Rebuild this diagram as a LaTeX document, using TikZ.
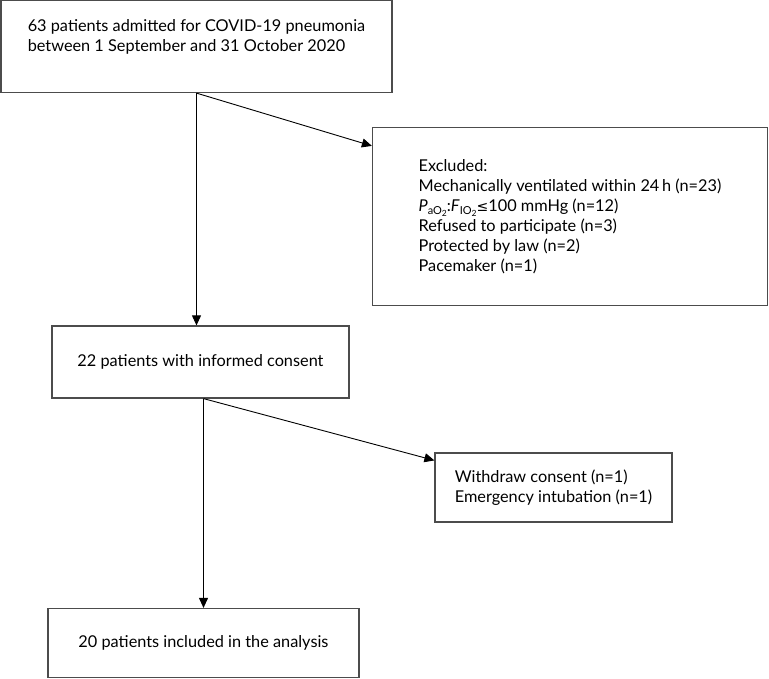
\documentclass[tikz,border=0pt]{standalone}
\usepackage{fontspec}
\setmainfont{Lato}
\newfontfamily\symfont{DejaVu Sans}
\usetikzlibrary{arrows.meta,calc}
\tikzset{
  box/.style={draw=black!70, line width=1.2pt, inner sep=0pt, align=left},
  txt/.style={inner sep=0pt, align=left, font=\fontsize{16.3}{20}\selectfont},
  arr/.style={draw=black, line width=0.9pt, -{Triangle[length=10pt,width=9pt]}}
}
\newcommand{\sbsc}[1]{\raisebox{-3pt}{\fontsize{11}{10}\selectfont #1}}
\newcommand{\ssbsc}[1]{\raisebox{-2pt}{\fontsize{8.5}{8}\selectfont #1}}
\begin{document}
\begin{tikzpicture}[x=1pt,y=1pt]
\useasboundingbox (0,0) rectangle (769,-678);
% boxes
\node[box, minimum width=391pt, minimum height=92pt] (b1) at (196.5,-46.5) {};
\node[txt, anchor=north] (b1t) at (196.5,-19.5) {63 patients admitted for COVID-19 pneumonia\\between 1 September and 31 October 2020};
\node[box, minimum width=395pt, minimum height=178pt] (ex) at (570,-216.5) {};
\node[txt] (ext) at (ex.center) {Excluded:\\Mechanically ventilated within 24\,h (n=23)\\\textit{P}\sbsc{aO\ssbsc{2}}:\textit{F}\sbsc{IO\ssbsc{2}}{\symfont\fontsize{14}{14}\selectfont ≤}100 mmHg (n=12)\\Refused to participate (n=3)\\Protected by law (n=2)\\Pacemaker (n=1)};
\node[box, minimum width=297pt, minimum height=72pt] (co) at (200.5,-362) {};
\node[txt] (cot) at (co.center) {22 patients with informed consent};
\node[box, minimum width=237pt, minimum height=69pt] (wd) at (553.5,-487.5) {};
\node[txt] (wdt) at (wd.center) {Withdraw consent (n=1)\\Emergency intubation (n=1)};
\node[box, minimum width=311pt, minimum height=69pt] (fi) at (203.5,-643) {};
\node[txt] (fit) at (fi.center) {20 patients included in the analysis};
% connectors
\coordinate (s1) at (b1.south);
\draw[arr] (s1) -- (s1 |- co.north);
\draw[arr] (s1) -- ($(ex.north west)+(0,-19)$);
\coordinate (s2) at (co.south -| fi.north);
\draw[arr] (s2) -- (fi.north);
\draw[arr] (s2) -- ($(wd.north west)+(0,-8)$);
\end{tikzpicture}
\end{document}
